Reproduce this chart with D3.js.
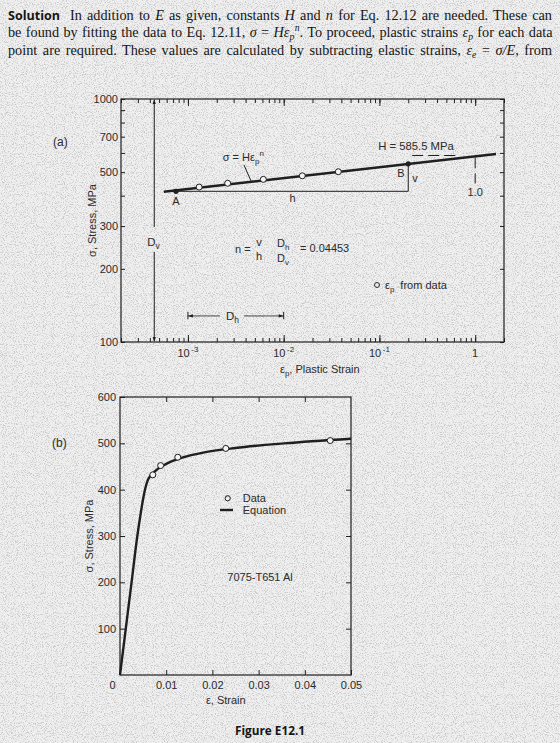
<!DOCTYPE html>
<html>
<head>
<meta charset="utf-8">
<script src="https://cdn.jsdelivr.net/npm/d3@7"></script>
<style>
  body { margin: 0; background: #ededed; }
  svg { display: block; font-family: "Liberation Sans", Arial, sans-serif; }
</style>
</head>
<body>
<div id="container"></div>
<script>
// ---------- (a) log-log: stress vs plastic strain ----------
const stressTicksA = [100, 200, 300, 400, 500, 600, 700, 800, 900, 1000];
const stressLabelsA = [100, 200, 300, 500, 700, 1000];
const strainMajorA = [0.001, 0.01, 0.1, 1];
const strainLabelsA = [["10", "-3"], ["10", "-2"], ["10", "-1"], ["1", ""]];
const plasticStrain = [0.00131, 0.0026, 0.00613, 0.01565, 0.0372];
const plasticStress = [434, 450, 467, 483, 502];
const fitStrain = [0.00056, 1.65];
const fitStress = [415, 594];
const pointA = [0.00075, 417];
const pointB = [0.2, 541];
const H = 585.5;
const nText = "0.04453";

// ---------- (b) linear: stress vs total strain ----------
const strainTicksB = [0, 0.01, 0.02, 0.03, 0.04, 0.05];
const strainLabelsB = ["0", "0.01", "0.02", "0.03", "0.04", "0.05"];
const stressTicksB = [100, 200, 300, 400, 500, 600];
const dataStrain = [0.0071, 0.0088, 0.0125, 0.0229, 0.0455];
const dataStress = [432, 452, 470, 489, 506];
const eqStrain = [0, 0.0025, 0.00375, 0.0045, 0.005, 0.0054, 0.006, 0.0066, 0.0076, 0.009, 0.0109, 0.0137, 0.018, 0.025, 0.0355, 0.05];
const eqStress = [0, 200, 300, 350, 380, 400, 420, 430, 440, 450, 460, 470, 480, 490, 500, 510];

const ink = "#1f1f1f";
const txt = "#2b2b2b";

const svg = d3.select("#container").append("svg").attr("width", 560).attr("height", 743);

// scanned paper speckle
const defs = svg.append("defs");
const grain = defs.append("filter").attr("id", "grain").attr("x", 0).attr("y", 0).attr("width", "100%").attr("height", "100%");
grain.append("feTurbulence").attr("type", "fractalNoise").attr("baseFrequency", 0.9).attr("numOctaves", 2).attr("seed", 7);
grain.append("feColorMatrix").attr("type", "matrix")
  .attr("values", "0 0 0 0 0.35  0 0 0 0 0.35  0 0 0 0 0.35  5 0 0 0 -2.5");
svg.append("rect").attr("width", 560).attr("height", 743).attr("fill", "#efefef");
svg.append("rect").attr("width", 560).attr("height", 743).attr("filter", "url(#grain)").attr("opacity", 0.45);

// ---------- paragraph ----------
const serif = "'Liberation Serif', 'Times New Roman', serif";
const paraColor = "#151515";

svg.append("text").attr("x", 8).attr("y", 19.5)
  .attr("font-family", "'Open Sans', sans-serif").attr("font-weight", 700).attr("font-size", 13)
  .attr("textLength", 52).attr("lengthAdjust", "spacingAndGlyphs").attr("fill", paraColor)
  .text("Solution");

const l1 = svg.append("text").attr("x", 70).attr("y", 19.5);
l1.append("tspan").text("In addition to ");
l1.append("tspan").attr("font-style", "italic").text("E");
l1.append("tspan").text(" as given, constants ");
l1.append("tspan").attr("font-style", "italic").text("H");
l1.append("tspan").text(" and ");
l1.append("tspan").attr("font-style", "italic").text("n");
l1.append("tspan").text(" for Eq. 12.12 are needed. These can");

const l2 = svg.append("text").attr("x", 8).attr("y", 37);
l2.append("tspan").text("be found by fitting the data to Eq. 12.11, ");
l2.append("tspan").attr("font-style", "italic").text("\u03c3");
l2.append("tspan").text(" = ");
l2.append("tspan").attr("font-style", "italic").text("H\u03b5");
l2.append("tspan").attr("font-style", "italic").attr("class", "small").attr("dy", 3).text("p");
l2.append("tspan").attr("font-style", "italic").attr("class", "small").attr("dx", 0.5).attr("dy", -9).text("n");
l2.append("tspan").attr("dy", 6).text(". To proceed, plastic strains ");
l2.append("tspan").attr("font-style", "italic").text("\u03b5");
l2.append("tspan").attr("font-style", "italic").attr("class", "small").attr("dy", 3).text("p");
l2.append("tspan").attr("dy", -3).text(" for each data");

const l3 = svg.append("text").attr("x", 8).attr("y", 54.5);
l3.append("tspan").text("point are required. These values are calculated by subtracting elastic strains, ");
l3.append("tspan").attr("font-style", "italic").text("\u03b5");
l3.append("tspan").attr("font-style", "italic").attr("class", "small").attr("dy", 3).text("e");
l3.append("tspan").attr("dy", -3).text(" = ");
l3.append("tspan").attr("font-style", "italic").text("\u03c3/E");
l3.append("tspan").text(", from");

// one font size for the paragraph, then justify each line with word spacing
const paraLines = [[l1, 482], [l2, 544], [l3, 544]];
const baseSize = 13;
paraLines.forEach(([t]) => t.attr("font-family", serif).attr("font-size", baseSize).attr("fill", paraColor));
const scale = d3.min(paraLines, ([t, w]) => w / t.node().getComputedTextLength());
const paraSize = baseSize * scale * 0.985;
paraLines.forEach(([t, w]) => {
  t.attr("font-size", paraSize);
  t.selectAll("tspan.small").attr("font-size", paraSize * 0.68);
  const node = t.node();
  const spaces = (node.textContent.match(/ /g) || []).length;
  t.attr("word-spacing", (w - node.getComputedTextLength()) / spaces);
});

// helpers
function styleAxis(g) {
  g.select(".domain").remove();
  g.selectAll(".tick line").attr("stroke", ink).attr("stroke-width", 1);
  g.selectAll(".tick text").attr("fill", txt).attr("font-size", 11).attr("font-family", "'Liberation Sans', Arial, sans-serif");
}

// ---------- panel (a) ----------
const mA = { left: 121, top: 99, width: 383, height: 243 };
const gA = svg.append("g").attr("transform", `translate(${mA.left},${mA.top})`);
const xA = d3.scaleLog().domain([2e-4, 2]).range([0, mA.width]);
const yA = d3.scaleLog().domain([100, 1000]).range([mA.height, 0]);
const minorA = xA.ticks();

gA.append("g").attr("transform", `translate(0,${mA.height})`)
  .call(d3.axisBottom(xA).tickValues(minorA).tickSize(-4).tickFormat("")).call(styleAxis);
gA.append("g").attr("transform", `translate(0,${mA.height})`)
  .call(d3.axisBottom(xA).tickValues(strainMajorA).tickSize(-7).tickFormat("")).call(styleAxis);
gA.append("g")
  .call(d3.axisTop(xA).tickValues(minorA).tickSize(-4).tickFormat("")).call(styleAxis);
gA.append("g")
  .call(d3.axisTop(xA).tickValues(strainMajorA).tickSize(-7).tickFormat("")).call(styleAxis);
gA.append("g")
  .call(d3.axisLeft(yA).tickValues(stressTicksA).tickSize(-4).tickPadding(3)
    .tickFormat(d => stressLabelsA.includes(d) ? d : "")).call(styleAxis);
gA.append("g").attr("transform", `translate(${mA.width},0)`)
  .call(d3.axisRight(yA).tickValues(stressTicksA).tickSize(-4).tickFormat("")).call(styleAxis);

gA.append("rect").attr("width", mA.width).attr("height", mA.height)
  .attr("fill", "none").attr("stroke", ink).attr("stroke-width", 1.2);

// x tick labels with exponents
strainMajorA.forEach((v, i) => {
  const t = gA.append("text").attr("x", xA(v)).attr("y", mA.height + 14.5)
    .attr("text-anchor", "middle").attr("font-size", 11).attr("fill", txt);
  t.append("tspan").text(strainLabelsA[i][0]);
  if (strainLabelsA[i][1]) t.append("tspan").attr("font-size", 8).attr("dx", 1.5).attr("dy", -5).text(strainLabelsA[i][1]);
});

// axis titles
const xtA = gA.append("text").attr("x", 159).attr("y", mA.height + 31).attr("font-size", 11).attr("fill", txt);
xtA.append("tspan").text("\u03b5");
xtA.append("tspan").attr("font-size", 8).attr("dy", 3).text("p");
xtA.append("tspan").attr("dy", -3).text(", Plastic Strain");

svg.append("text").attr("transform", `translate(96,${mA.top + mA.height / 2}) rotate(-90)`)
  .attr("text-anchor", "middle").attr("font-size", 11).attr("fill", txt).text("\u03c3, Stress, MPa");
svg.append("text").attr("x", 53).attr("y", 145.5).attr("font-size", 12).attr("fill", txt).text("(a)");

// D_v vertical reference (one decade of stress)
const dvStrain = 4.45e-4;
const dvGap = [235, 297];
gA.append("line").attr("x1", xA(dvStrain)).attr("x2", xA(dvStrain)).attr("y1", yA(1000) + 1).attr("y2", yA(dvGap[1]))
  .attr("stroke", ink).attr("stroke-width", 1);
gA.append("line").attr("x1", xA(dvStrain)).attr("x2", xA(dvStrain)).attr("y1", yA(dvGap[0])).attr("y2", yA(100) - 1)
  .attr("stroke", ink).attr("stroke-width", 1);
gA.append("path").attr("d", `M${xA(dvStrain) - 1.6},${yA(100) - 5}L${xA(dvStrain)},${yA(100)}L${xA(dvStrain) + 1.6},${yA(100) - 5}Z`).attr("fill", ink);
gA.append("path").attr("d", `M${xA(dvStrain) - 1.6},${yA(1000) + 5}L${xA(dvStrain)},${yA(1000)}L${xA(dvStrain) + 1.6},${yA(1000) + 5}Z`).attr("fill", ink);
const dvLbl = gA.append("text").attr("x", xA(dvStrain) - 7).attr("y", 146.5).attr("font-size", 11.5).attr("fill", txt);
dvLbl.append("tspan").text("D");
dvLbl.append("tspan").attr("font-size", 8.5).attr("dy", 3).text("v");

// D_h horizontal reference (one decade of strain)
const dhStress = 128;
const dhCap = [124, 133];
const dhBreak = [0.00216, 0.00385];
[0.001, 0.01].forEach(v => {
  gA.append("line").attr("x1", xA(v)).attr("x2", xA(v)).attr("y1", yA(dhCap[1])).attr("y2", yA(dhCap[0]))
    .attr("stroke", ink).attr("stroke-width", 1);
});
gA.append("line").attr("x1", xA(0.001)).attr("x2", xA(dhBreak[0])).attr("y1", yA(dhStress)).attr("y2", yA(dhStress)).attr("stroke", ink).attr("stroke-width", 0.8);
gA.append("line").attr("x1", xA(dhBreak[1])).attr("x2", xA(0.01)).attr("y1", yA(dhStress)).attr("y2", yA(dhStress)).attr("stroke", ink).attr("stroke-width", 0.8);
gA.append("path").attr("d", `M${xA(0.001) + 5},${yA(dhStress) - 1.6}L${xA(0.001)},${yA(dhStress)}L${xA(0.001) + 5},${yA(dhStress) + 1.6}Z`).attr("fill", ink);
gA.append("path").attr("d", `M${xA(0.01) - 5},${yA(dhStress) - 1.6}L${xA(0.01)},${yA(dhStress)}L${xA(0.01) - 5},${yA(dhStress) + 1.6}Z`).attr("fill", ink);
const dhLbl = gA.append("text").attr("x", xA(0.0025)).attr("y", yA(dhStress) + 4).attr("font-size", 11.5).attr("fill", txt);
dhLbl.append("tspan").text("D");
dhLbl.append("tspan").attr("font-size", 8.5).attr("dy", 3).text("h");

// triangle h / v between A and B
gA.append("path")
  .attr("d", `M${xA(pointA[0])},${yA(pointA[1])}H${xA(pointB[0])}V${yA(pointB[1])}`)
  .attr("fill", "none").attr("stroke", ink).attr("stroke-width", 1);
gA.append("text").attr("x", xA(0.0115)).attr("y", yA(pointA[1]) + 10.5).attr("font-size", 11).attr("fill", txt).text("h");
gA.append("text").attr("x", xA(pointB[0]) + 4).attr("y", yA(pointB[1]) + 18).attr("font-size", 11).attr("fill", txt).text("v");
gA.append("text").attr("x", xA(pointB[0]) - 11).attr("y", yA(pointB[1]) + 13.5).attr("font-size", 11).attr("fill", txt).text("B");
gA.append("text").attr("x", xA(pointA[0])).attr("y", yA(pointA[1]) + 14).attr("text-anchor", "middle").attr("font-size", 11).attr("fill", txt).text("A");

// H dashed references at strain = 1
gA.append("line").attr("x1", xA(0.22)).attr("x2", xA(0.66)).attr("y1", yA(H)).attr("y2", yA(H))
  .attr("stroke", ink).attr("stroke-width", 1).attr("stroke-dasharray", "11,5");
gA.append("line").attr("x1", xA(1)).attr("x2", xA(1)).attr("y1", yA(575)).attr("y2", yA(450))
  .attr("stroke", ink).attr("stroke-width", 1).attr("stroke-dasharray", "11,5");
gA.append("text").attr("x", xA(1)).attr("y", yA(450) + 13).attr("text-anchor", "middle").attr("font-size", 11).attr("fill", txt).text("1.0");
gA.append("text").attr("x", xA(0.097)).attr("y", yA(H) - 5).attr("font-size", 11.3).attr("fill", txt).text(`H = ${H} MPa`);

// fitted power law line
const lineA = d3.line().x(d => xA(d[0])).y(d => yA(d[1]));
gA.append("path").datum(fitStrain.map((s, i) => [s, fitStress[i]]))
  .attr("d", lineA).attr("fill", "none").attr("stroke", ink).attr("stroke-width", 2.4);

// equation label and leader
const eqLbl = gA.append("text").attr("x", xA(0.00231)).attr("y", yA(558)).attr("font-size", 11).attr("fill", txt);
eqLbl.append("tspan").text("\u03c3 = H\u03b5");
eqLbl.append("tspan").attr("font-size", 8).attr("dy", 3).text("p");
eqLbl.append("tspan").attr("font-size", 8).attr("dy", -8).text("n");
gA.append("line").attr("x1", xA(0.00385)).attr("x2", xA(0.00456)).attr("y1", yA(535)).attr("y2", yA(460))
  .attr("stroke", ink).attr("stroke-width", 1);

// data points and A, B
gA.selectAll("circle.pd").data(plasticStrain).join("circle").attr("class", "pd")
  .attr("cx", d => xA(d)).attr("cy", (d, i) => yA(plasticStress[i])).attr("r", 3)
  .attr("fill", "#f4f4f4").attr("stroke", ink).attr("stroke-width", 1);
gA.selectAll("circle.ab").data([pointA, pointB]).join("circle").attr("class", "ab")
  .attr("cx", d => xA(d[0])).attr("cy", d => yA(d[1])).attr("r", 2.6).attr("fill", ink);

// n = v/h * Dh/Dv = 0.04453
const nG = gA.append("g").attr("font-size", 11).attr("fill", txt);
nG.append("text").attr("x", 114).attr("y", 154).text("n =");
nG.append("text").attr("x", 138).attr("y", 147).attr("text-anchor", "middle").text("v");
nG.append("text").attr("x", 138).attr("y", 160.5).attr("text-anchor", "middle").text("h");
const dhF = nG.append("text").attr("x", 156).attr("y", 147.5);
dhF.append("tspan").text("D");
dhF.append("tspan").attr("font-size", 8).attr("dy", 3).text("h");
const dvF = nG.append("text").attr("x", 156).attr("y", 163);
dvF.append("tspan").text("D");
dvF.append("tspan").attr("font-size", 8).attr("dy", 3).text("v");
nG.append("text").attr("x", 179).attr("y", 153).text(`= ${nText}`);

// legend of panel (a)
gA.append("circle").attr("cx", 256).attr("cy", 186).attr("r", 2.5).attr("fill", "none").attr("stroke", ink).attr("stroke-width", 0.9);
const lgA = gA.append("text").attr("x", 264).attr("y", 189.5).attr("font-size", 11).attr("fill", txt);
lgA.append("tspan").text("\u03b5");
lgA.append("tspan").attr("font-size", 8).attr("dy", 3).text("p");
lgA.append("tspan").attr("dy", -3).attr("dx", 6).text("from data");

// ---------- panel (b) ----------
const mB = { left: 120, top: 397, width: 231, height: 278 };
const gB = svg.append("g").attr("transform", `translate(${mB.left},${mB.top})`);
const xB = d3.scaleLinear().domain([0, 0.05]).range([0, mB.width]);
const yB = d3.scaleLinear().domain([0, 600]).range([mB.height, 0]);

gB.append("g").attr("transform", `translate(0,${mB.height})`)
  .call(d3.axisBottom(xB).tickValues(strainTicksB).tickSize(-5).tickPadding(6)
    .tickFormat((d, i) => strainLabelsB[i])).call(styleAxis)
  .call(g => g.selectAll(".tick").filter(d => d === 0).select("text").attr("dx", -8));
gB.append("g")
  .call(d3.axisTop(xB).tickValues(strainTicksB.slice(1, -1)).tickSize(-5).tickFormat("")).call(styleAxis);
gB.append("g")
  .call(d3.axisLeft(yB).tickValues(stressTicksB).tickSize(-5).tickPadding(4)).call(styleAxis);
gB.append("g").attr("transform", `translate(${mB.width},0)`)
  .call(d3.axisRight(yB).tickValues(stressTicksB.slice(0, -1)).tickSize(-5).tickFormat("")).call(styleAxis);
gB.append("rect").attr("width", mB.width).attr("height", mB.height)
  .attr("fill", "none").attr("stroke", ink).attr("stroke-width", 1.2);

const lineB = d3.line().x(d => xB(d[0])).y(d => yB(d[1])).curve(d3.curveMonotoneX);
gB.append("path").datum(eqStrain.map((s, i) => [s, eqStress[i]]))
  .attr("d", lineB).attr("fill", "none").attr("stroke", ink).attr("stroke-width", 2.4);

gB.selectAll("circle.dd").data(dataStrain).join("circle").attr("class", "dd")
  .attr("cx", d => xB(d)).attr("cy", (d, i) => yB(dataStress[i])).attr("r", 3)
  .attr("fill", "#f4f4f4").attr("stroke", ink).attr("stroke-width", 1);

// legend (b)
gB.append("circle").attr("cx", 107.7).attr("cy", 101.3).attr("r", 2.6).attr("fill", "none").attr("stroke", ink).attr("stroke-width", 1);
gB.append("text").attr("x", 122.7).attr("y", 105).attr("font-size", 11).attr("fill", txt).text("Data");
gB.append("line").attr("x1", 100).attr("x2", 113).attr("y1", 113).attr("y2", 113).attr("stroke", ink).attr("stroke-width", 2.4);
gB.append("text").attr("x", 122.7).attr("y", 116.5).attr("font-size", 11).attr("fill", txt).text("Equation");
gB.append("text").attr("x", 140).attr("y", 184).attr("text-anchor", "middle").attr("font-size", 11).attr("fill", txt).text("7075-T651 Al");

gB.append("text").attr("x", xB(0.0229)).attr("y", mB.height + 28.5).attr("text-anchor", "middle")
  .attr("font-size", 11).attr("fill", txt).text("\u03b5, Strain");
svg.append("text").attr("transform", `translate(92.5,${mB.top + mB.height / 2}) rotate(-90)`)
  .attr("text-anchor", "middle").attr("font-size", 11).attr("fill", txt).text("\u03c3, Stress, MPa");
svg.append("text").attr("x", 52).attr("y", 447).attr("font-size", 12).attr("fill", txt).text("(b)");

// caption
svg.append("text").attr("x", 270).attr("y", 735).attr("text-anchor", "middle")
  .attr("font-family", "'Open Sans', sans-serif").attr("font-weight", 700).attr("font-size", 12)
  .attr("textLength", 70).attr("lengthAdjust", "spacingAndGlyphs").attr("fill", "#151515")
  .text("Figure E12.1");
</script>
</body>
</html>
